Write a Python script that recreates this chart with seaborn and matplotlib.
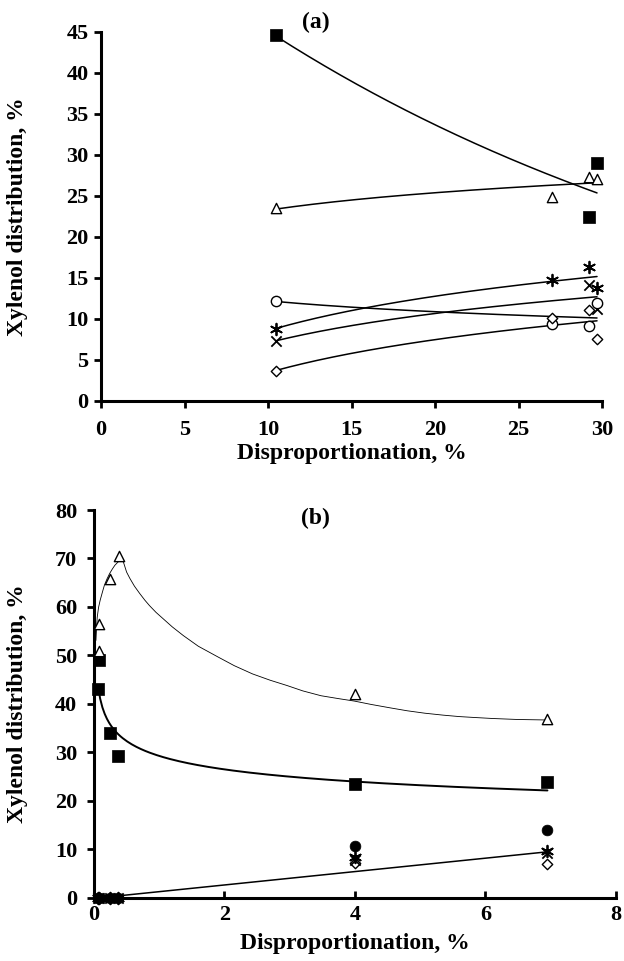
import numpy as np
import pandas as pd
import matplotlib
matplotlib.use("Agg")
import matplotlib.pyplot as plt
import seaborn as sns

sns.set_style("ticks")
plt.rcParams['font.family'] = ['Liberation Serif', 'DejaVu Serif']
plt.rcParams['font.weight'] = 'bold'
plt.rcParams['axes.labelweight'] = 'bold'
plt.rcParams['text.color'] = 'black'
plt.rcParams['axes.labelcolor'] = 'black'
plt.rcParams['xtick.color'] = 'black'
plt.rcParams['ytick.color'] = 'black'

# ---------------- Panel (a) data ----------------
a_sq_x = [10.5, 29.2, 29.7]
a_sq_y = [44.6, 22.4, 29.0]
a_tri_x = [10.5, 27.0, 29.2, 29.7]
a_tri_y = [23.5, 24.9, 27.3, 27.1]
a_ast_x = [10.5, 27.0, 29.2, 29.7]
a_ast_y = [8.8, 14.7, 16.3, 13.8]
a_xm_x = [10.5, 29.2, 29.7]
a_xm_y = [7.3, 14.1, 11.2]
a_cir_x = [10.5, 27.0, 29.2, 29.7]
a_cir_y = [12.2, 9.4, 9.1, 11.9]
a_dia_x = [10.5, 27.0, 29.2, 29.7]
a_dia_y = [3.6, 10.1, 11.1, 7.5]

# ---------------- Panel (b) data ----------------
b_tri_x = [0.08, 0.08, 0.25, 0.38, 4.0, 6.95]
b_tri_y = [56.5, 51.0, 65.8, 70.6, 42.1, 36.9]
b_sq_x = [0.08, 0.06, 0.25, 0.37, 4.0, 6.95]
b_sq_y = [49.0, 43.1, 34.0, 29.3, 23.6, 23.9]
b_fc_x = [0.06, 0.08, 0.25, 0.37, 4.0, 6.95]
b_fc_y = [0.0, 0.0, 0.0, 0.0, 10.8, 14.1]
b_ast_x = [0.06, 0.08, 0.25, 0.37, 4.0, 6.95]
b_ast_y = [0.0, 0.0, 0.0, 0.0, 8.5, 9.6]
b_xm_x = [0.06, 0.08, 0.25, 0.37, 4.0, 6.95]
b_xm_y = [0.0, 0.0, 0.0, 0.0, 7.8, 9.3]
b_dia_x = [0.06, 0.08, 0.25, 0.37, 4.0, 6.95]
b_dia_y = [0.0, 0.0, 0.0, 0.0, 7.2, 7.1]

# curve drawn through the triangle series in (b)
b_tri_curve_x = [0.03, 0.04, 0.05, 0.07, 0.095, 0.13, 0.16, 0.2, 0.24, 0.28, 0.32,
                 0.37, 0.41, 0.44, 0.46, 0.5, 0.55, 0.62, 0.7, 0.78, 0.85, 0.95,
                 1.05, 1.2, 1.37, 1.6, 1.9, 2.15, 2.43, 2.7, 2.96, 3.2, 3.48,
                 3.75, 3.99, 4.25, 4.54, 4.8, 5.07, 5.35, 5.6, 5.85, 6.12, 6.5, 6.94]
b_tri_curve_y = [53.1, 55.8, 57.9, 59.9, 61.4, 63.1, 64.5, 65.8, 66.9, 67.8, 68.6,
                 69.3, 69.7, 69.6, 68.9, 67.2, 65.9, 64.3, 62.8, 61.4, 60.3, 58.9,
                 57.7, 55.9, 54.1, 51.9, 49.7, 47.9, 46.2, 44.9, 43.8, 42.7, 41.7,
                 41.1, 40.6, 39.9, 39.2, 38.6, 38.1, 37.7, 37.4, 37.2, 37.0, 36.8, 36.7]
# straight trend line near the bottom of (b)
b_low_line_x = [0.06, 6.94]
b_low_line_y = [0.0, 9.5]

a_xticks = [0, 5, 10, 15, 20, 25, 30]
a_yticks = [0, 5, 10, 15, 20, 25, 30, 35, 40, 45]
b_xticks = [0, 2, 4, 6, 8]
b_yticks = [0, 10, 20, 30, 40, 50, 60, 70, 80]

XLABEL = "Disproportionation, %"
YLABEL = "Xylenol distribution, %"


def fit_curve(x, y, kind):
    x = np.asarray(x, float)
    y = np.asarray(y, float)
    xs = np.linspace(x.min(), x.max(), 200)
    if kind == "exp":
        b, a = np.polyfit(x, np.log(y), 1)
        ys = np.exp(a + b * xs)
    elif kind == "log":
        b, a = np.polyfit(np.log(x), y, 1)
        ys = a + b * np.log(xs)
    elif kind == "power":
        b, a = np.polyfit(np.log(x), np.log(y), 1)
        ys = np.exp(a) * xs ** b
    return pd.DataFrame({"x": xs, "y": ys})


def pts(ax, x, y, marker, filled, s, lw=1.0):
    df = pd.DataFrame({"x": x, "y": y})
    if filled:
        sns.scatterplot(data=df, x="x", y="y", ax=ax, marker=marker, s=s,
                        color="black", edgecolor="black", linewidth=0.5,
                        clip_on=False, zorder=5)
    elif marker in ("x",) or isinstance(marker, tuple):
        sns.scatterplot(data=df, x="x", y="y", ax=ax, marker=marker, s=s,
                        color="black", linewidth=lw, clip_on=False, zorder=5)
    else:
        sns.scatterplot(data=df, x="x", y="y", ax=ax, marker=marker, s=s,
                        facecolor="white", edgecolor="black", linewidth=lw,
                        clip_on=False, zorder=5)


def line(ax, df, lw):
    sns.lineplot(data=df, x="x", y="y", ax=ax, color="black", linewidth=lw,
                 sort=False, estimator=None, clip_on=False, zorder=3)


fig = plt.figure(figsize=(6.24, 9.61), dpi=100)
ax1 = fig.add_axes([0.1619, 0.583, 0.8029, 0.3839])
ax2 = fig.add_axes([0.1506, 0.0656, 0.8365, 0.4037])

ASTER = (6, 2, 0)

# ---- panel (a) ----
line(ax1, fit_curve(a_sq_x, a_sq_y, "exp"), 1.1)
line(ax1, fit_curve(a_tri_x, a_tri_y, "log"), 1.1)
line(ax1, fit_curve(a_ast_x, a_ast_y, "log"), 1.1)
line(ax1, fit_curve(a_xm_x, a_xm_y, "log"), 1.1)
line(ax1, fit_curve(a_cir_x, a_cir_y, "log"), 1.1)
line(ax1, fit_curve(a_dia_x, a_dia_y, "log"), 1.1)
pts(ax1, a_sq_x, a_sq_y, "s", True, 70)
pts(ax1, a_tri_x, a_tri_y, "^", False, 55)
pts(ax1, a_ast_x, a_ast_y, ASTER, False, 70, 1.3)
pts(ax1, a_xm_x, a_xm_y, "x", False, 55, 1.3)
pts(ax1, a_cir_x, a_cir_y, "o", False, 55)
pts(ax1, a_dia_x, a_dia_y, "D", False, 28)

# ---- panel (b) ----
line(ax2, pd.DataFrame({"x": b_tri_curve_x, "y": b_tri_curve_y}), 0.6)
line(ax2, fit_curve(b_sq_x, b_sq_y, "power"), 1.4)
line(ax2, pd.DataFrame({"x": b_low_line_x, "y": b_low_line_y}), 1.1)
pts(ax2, b_dia_x, b_dia_y, "D", False, 28)
pts(ax2, b_xm_x, b_xm_y, "x", False, 55, 1.3)
pts(ax2, b_ast_x, b_ast_y, ASTER, False, 70, 1.3)
pts(ax2, b_fc_x, b_fc_y, "o", True, 60)
pts(ax2, b_sq_x, b_sq_y, "s", True, 70)
pts(ax2, b_tri_x, b_tri_y, "^", False, 55)

for ax, xt, yt, xl, yl in [(ax1, a_xticks, a_yticks, (0, 30), (0, 45)),
                           (ax2, b_xticks, b_yticks, (0, 8), (0, 80))]:
    ax.set_xlim(*xl)
    ax.set_ylim(*yl)
    ax.set_xticks(xt)
    ax.set_yticks(yt)
    ax.set_xticklabels([str(v) for v in xt])
    ax.set_yticklabels([str(v) for v in yt])
    sns.despine(ax=ax)
    for sp in ("left", "bottom"):
        ax.spines[sp].set_linewidth(2.2)
        ax.spines[sp].set_color("black")
    for lab in ax.get_xticklabels() + ax.get_yticklabels():
        lab.set_fontweight("bold")
        lab.set_fontsize(16)
        lab.set_color("black")
    ax.set_xlabel(XLABEL, fontsize=17, fontweight="bold", color="black")
    ax.set_ylabel(YLABEL, fontsize=17, fontweight="bold", color="black")
    ax.patch.set_alpha(0)

ax1.tick_params(axis="x", direction="out", length=5, width=2, pad=9, colors="black")
ax1.tick_params(axis="y", direction="out", length=5, width=2, pad=4, colors="black")
ax2.tick_params(axis="x", direction="in", length=5, width=2, pad=5, colors="black")
ax2.tick_params(axis="y", direction="out", length=5, width=2, pad=7, colors="black")

ax1.xaxis.set_label_coords(0.5, -0.115)
ax1.yaxis.set_label_coords(-0.146, 0.5)
ax2.xaxis.set_label_coords(0.5, -0.09)
ax2.yaxis.set_label_coords(-0.126, 0.5)

fig.text(316 / 624, 1 - 22 / 961, "(a)", fontsize=17, fontweight="bold",
         ha="center", va="center", color="black")
fig.text(315 / 624, 1 - 518 / 961, "(b)", fontsize=17, fontweight="bold",
         ha="center", va="center", color="black")

fig.savefig("out.png", dpi=100)
